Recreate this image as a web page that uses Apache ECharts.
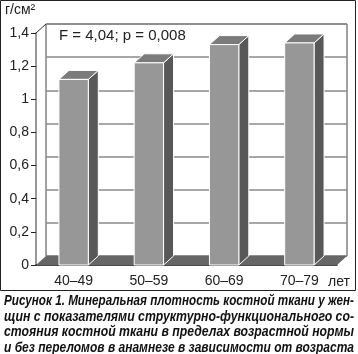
<!DOCTYPE html>
<html>
<head>
<meta charset="utf-8">
<script src="https://cdn.jsdelivr.net/npm/echarts@6/dist/echarts.min.js"></script>
<style>
  body { margin: 0; background: #fff; }
  #chart { width: 358px; height: 354px; }
</style>
</head>
<body>
<div id="chart"></div>
<script>
  // данные с рисунка
  var categories = ['40–49', '50–59', '60–69', '70–79'];
  var density = [1.12, 1.22, 1.33, 1.34];
  var yTicks = { min: 0, max: 1.4, step: 0.2 };
  var statText = 'F = 4,04; p = 0,008';
  var unitText = 'г/см²';
  var caption = [
    'Рисунок 1. Минеральная плотность костной ткани у жен-',
    'щин с показателями структурно-функционального со-',
    'стояния костной ткани в пределах возрастной нормы',
    'и без переломов в анамнезе в зависимости от возраста'
  ];

  // глубина "3D"
  var DX = 10, DY = -9;
  var font = '"Liberation Sans", Arial, sans-serif';
  var captionFont = 'italic bold 14px "Liberation Sans", Arial, sans-serif';

  function fmt(v) {
    return String(+v.toFixed(1)).replace('.', ',');
  }

  // подпись выровнена по ширине — сжимаем каждую строку до 350px
  var ctx = document.createElement('canvas').getContext('2d');
  ctx.font = captionFont;
  function fitScale(line) {
    return 350 / ctx.measureText(line).width;
  }

  var chart = echarts.init(document.getElementById('chart'));

  var option = {
    animation: false,
    grid: [
      {left: 36, top: 33, width: 301, height: 232},
      {left: 36 + DX, top: 33 + DY, width: 301, height: 232, show: true, borderColor: '#444', borderWidth: 1}
    ],
    xAxis: [
      {
        type: 'category',
        gridIndex: 0,
        data: categories,
        axisLine: {lineStyle: {color: '#111', width: 1.5}},
        axisTick: {length: 7, lineStyle: {color: '#111'}},
        axisLabel: {color: '#222', fontSize: 14, fontFamily: font, margin: 9}
      },
      {type: 'category', gridIndex: 1, data: categories, show: false}
    ],
    yAxis: [
      {
        type: 'value',
        gridIndex: 0,
        min: yTicks.min,
        max: yTicks.max,
        interval: yTicks.step,
        axisLine: {show: true, lineStyle: {color: '#999', width: 2}},
        axisTick: {show: true, length: 5, lineStyle: {color: '#222'}},
        axisLabel: {color: '#222', fontSize: 14, fontFamily: font, margin: 7, formatter: fmt},
        splitLine: {show: false}
      },
      {
        type: 'value',
        gridIndex: 1,
        min: yTicks.min,
        max: yTicks.max,
        interval: yTicks.step,
        axisLine: {show: false},
        axisTick: {show: false},
        axisLabel: {show: false},
        splitLine: {show: true, lineStyle: {color: '#8a8a8a', width: 1.5}}
      }
    ],
    series: [
      {
        // пол и боковая стенка
        type: 'custom',
        xAxisIndex: 0,
        yAxisIndex: 0,
        z: 2,
        data: [[0, 0]],
        renderItem: function (params, api) {
          var cs = params.coordSys;
          var b = cs.y + cs.height;
          return {
            type: 'group',
            children: [
              {
                type: 'polygon',
                shape: {points: [[cs.x, b], [cs.x + cs.width, b], [cs.x + cs.width + DX, b + DY], [cs.x + DX, b + DY]]},
                style: {fill: '#666', stroke: null}
              },
              {
                type: 'line',
                shape: {x1: cs.x, y1: cs.y, x2: cs.x + DX, y2: cs.y + DY},
                style: {stroke: '#333', lineWidth: 1}
              }
            ]
          };
        }
      },
      {
        type: 'custom',
        xAxisIndex: 0,
        yAxisIndex: 0,
        z: 3,
        data: density.map(function (v, i) { return [i, v]; }),
        renderItem: function (params, api) {
          var top = api.coord([api.value(0), api.value(1)]);
          var bottom = api.coord([api.value(0), 0]);
          var bw = api.size([1, 0])[0] * 0.39;
          var x0 = top[0] - bw / 2, x1 = top[0] + bw / 2;
          var y0 = top[1], y1 = bottom[1];
          var edge = {stroke: '#fff', lineWidth: 1};
          return {
            type: 'group',
            children: [
              {
                type: 'polygon',
                shape: {points: [[x1, y0], [x1 + DX, y0 + DY], [x1 + DX, y1 + DY], [x1, y1]]},
                style: Object.assign({fill: '#585858'}, edge)
              },
              {
                type: 'polygon',
                shape: {points: [[x0, y0], [x1, y0], [x1 + DX, y0 + DY], [x0 + DX, y0 + DY]]},
                style: Object.assign({fill: '#7b7b7b'}, edge)
              },
              {
                type: 'rect',
                shape: {x: x0, y: y0, width: bw, height: y1 - y0},
                style: Object.assign({fill: '#979797'}, edge)
              }
            ]
          };
        }
      }
    ],
    graphic: [
      {
        type: 'rect',
        shape: {x: 0.5, y: 0.5, width: 355, height: 290},
        style: {fill: null, stroke: '#222', lineWidth: 1},
        z: -1
      },
      {type: 'text', left: 5, top: 3, style: {text: unitText, font: '14px ' + font, fill: '#222'}},
      {type: 'text', left: 59, top: 28, style: {text: statText, font: '15px ' + font, fill: '#222'}},
      {type: 'text', left: 328, top: 275, style: {text: 'лет', font: '14px ' + font, fill: '#222'}}
    ].concat(caption.map(function (line, i) {
      return {
        type: 'text',
        x: 179,
        y: 294 + i * 15.7,
        scaleX: fitScale(line),
        style: {text: line, font: captionFont, fill: '#111', align: 'center'}
      };
    }))
  };

  chart.setOption(option);
</script>
</body>
</html>
